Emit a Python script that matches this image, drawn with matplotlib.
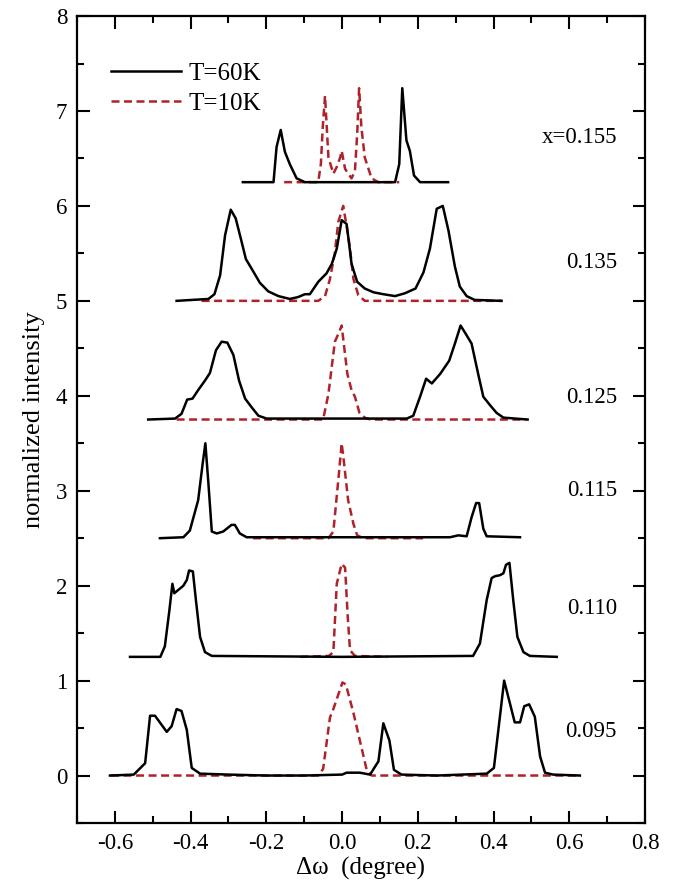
import numpy as np
import matplotlib
matplotlib.use('Agg')
import matplotlib.pyplot as plt
from matplotlib.ticker import MultipleLocator

plt.rcParams['font.family'] = ['Liberation Serif', 'DejaVu Serif']
plt.rcParams['mathtext.fontset'] = 'stix'

# x = 0.095, offset 0
x095_hot = [-0.613, -0.55, -0.52, -0.507, -0.494, -0.463, -0.45, -0.437, -0.424, -0.41, -0.397,
            -0.375, -0.3, -0.2, -0.1, 0.0, 0.012, 0.047, 0.074, 0.096, 0.109, 0.125, 0.137, 0.157,
            0.25, 0.382, 0.401, 0.428, 0.456, 0.47, 0.481, 0.494, 0.509, 0.523, 0.536, 0.557, 0.628]
y095_hot = [0.0, 0.01, 0.13, 0.63, 0.63, 0.46, 0.52, 0.70, 0.68, 0.48, 0.08,
            0.02, 0.01, 0.0, 0.0, 0.01, 0.03, 0.03, 0.01, 0.15, 0.55, 0.37, 0.06, 0.01,
            0.0, 0.02, 0.08, 1.0, 0.56, 0.56, 0.73, 0.75, 0.62, 0.2, 0.03, 0.01, 0.0]
x095_cold = [-0.61, -0.063, -0.05, -0.032, -0.023, 0.001, 0.01, 0.03, 0.065, 0.078, 0.63]
y095_cold = [0.0, 0.0, 0.07, 0.61, 0.70, 0.98, 0.96, 0.66, 0.06, 0.0, 0.0]

# x = 0.110, offset 1.25
x110_hot = [-0.56, -0.48, -0.468, -0.456, -0.448, -0.443, -0.419, -0.41, -0.404, -0.394, -0.386,
            -0.375, -0.362, -0.344, 0.0, 0.346, 0.364, 0.382, 0.395, 0.404, 0.417, 0.426, 0.433,
            0.442, 0.452, 0.463, 0.479, 0.496, 0.567]
y110_hot = [1.25, 1.25, 1.36, 1.74, 2.02, 1.92, 2.0, 2.06, 2.16, 2.15, 1.85,
            1.46, 1.30, 1.26, 1.25, 1.26, 1.39, 1.85, 2.08, 2.10, 2.11, 2.13, 2.22,
            2.24, 1.85, 1.46, 1.30, 1.26, 1.25]
x110_cold = [-0.11, -0.035, -0.023, -0.014, -0.001, 0.008, 0.015, 0.021, 0.034, 0.12]
y110_cold = [1.25, 1.26, 1.30, 2.02, 2.23, 2.19, 1.67, 1.32, 1.26, 1.25]

# x = 0.115, offset 2.5
x115_hot = [-0.481, -0.419, -0.402, -0.38, -0.368, -0.361, -0.353, -0.344, -0.331, -0.314,
            -0.292, -0.283, -0.27, -0.252, 0.285, 0.307, 0.329, 0.342, 0.354, 0.362, 0.373,
            0.382, 0.47]
y115_hot = [2.5, 2.51, 2.58, 2.9, 3.29, 3.50, 3.08, 2.57, 2.55, 2.57,
            2.64, 2.64, 2.55, 2.51, 2.51, 2.53, 2.52, 2.72, 2.87, 2.87, 2.6,
            2.52, 2.51]
x115_cold = [-0.235, -0.036, -0.023, -0.01, -0.001, 0.005, 0.016, 0.03, 0.04, 0.056, 0.214]
y115_cold = [2.5, 2.5, 2.57, 3.11, 3.50, 3.30, 2.90, 2.65, 2.53, 2.5, 2.5]

# x = 0.125, offset 3.75
x125_hot = [-0.512, -0.441, -0.424, -0.409, -0.395, -0.38, -0.362, -0.349, -0.333, -0.318,
            -0.303, -0.287, -0.272, -0.256, -0.239, -0.221, -0.199, 0.171, 0.188, 0.206,
            0.222, 0.237, 0.259, 0.283, 0.298, 0.313, 0.327, 0.342, 0.36, 0.373, 0.391,
            0.408, 0.426, 0.49]
y125_hot = [3.75, 3.76, 3.81, 3.96, 3.97, 4.06, 4.16, 4.24, 4.48, 4.57,
            4.56, 4.43, 4.16, 3.97, 3.88, 3.79, 3.76, 3.76, 3.79, 3.99,
            4.18, 4.13, 4.23, 4.37, 4.55, 4.74, 4.65, 4.55, 4.22, 3.99, 3.90,
            3.82, 3.77, 3.75]
x125_cold = [-0.437, -0.05, -0.036, -0.019, -0.01, -0.001, 0.003, 0.014, 0.025, 0.034, 0.046,
             0.06, 0.075, 0.487]
y125_cold = [3.75, 3.75, 4.02, 4.57, 4.65, 4.74, 4.60, 4.23, 4.06, 3.99, 3.82,
             3.77, 3.75, 3.75]

# x = 0.135, offset 5.0
x135_hot = [-0.437, -0.353, -0.337, -0.322, -0.309, -0.294, -0.281, -0.267, -0.254, -0.239,
            -0.217, -0.195, -0.168, -0.138, -0.116, -0.098, -0.085, -0.063, -0.041, -0.027,
            -0.014, -0.001, 0.012, 0.018, 0.025, 0.04, 0.06, 0.083, 0.109, 0.14, 0.166,
            0.194, 0.215, 0.232, 0.25, 0.266, 0.281, 0.298, 0.311, 0.329, 0.35, 0.42]
y135_hot = [5.0, 5.02, 5.07, 5.27, 5.69, 5.96, 5.87, 5.65, 5.44, 5.34,
            5.19, 5.10, 5.05, 5.02, 5.04, 5.07, 5.07, 5.2, 5.29, 5.39,
            5.55, 5.85, 5.81, 5.62, 5.39, 5.2, 5.13, 5.09, 5.07, 5.05, 5.08,
            5.13, 5.3, 5.55, 5.97, 6.0, 5.74, 5.36, 5.15, 5.05, 5.01, 5.0]
x135_cold = [-0.371, -0.063, -0.045, -0.032, -0.019, -0.01, 0.003, 0.012, 0.021, 0.03, 0.043,
             0.06, 0.425]
y135_cold = [5.0, 5.0, 5.05, 5.23, 5.51, 5.83, 6.0, 5.79, 5.55, 5.23, 5.06,
             5.0, 5.0]

# x = 0.155, offset 6.25
x155_hot = [-0.262, -0.181, -0.173, -0.162, -0.151, -0.138, -0.12, -0.098, 0.14, 0.151, 0.159,
            0.17, 0.179, 0.19, 0.206, 0.28]
y155_hot = [6.25, 6.25, 6.62, 6.80, 6.57, 6.44, 6.29, 6.25, 6.25, 6.44, 7.24,
            6.69, 6.58, 6.32, 6.25, 6.25]
x155_cold = [-0.153, -0.063, -0.056, -0.051, -0.045, -0.036, -0.023, -0.014, -0.005, -0.001,
             0.008, 0.025, 0.034, 0.04, 0.045, 0.051, 0.06, 0.078, 0.096, 0.151]
y155_cold = [6.25, 6.25, 6.44, 6.83, 7.16, 6.51, 6.34, 6.41, 6.51, 6.58,
             6.39, 6.29, 6.37, 6.76, 7.24, 6.83, 6.51, 6.29, 6.25, 6.25]

hot = [(x095_hot, y095_hot), (x110_hot, y110_hot), (x115_hot, y115_hot),
       (x125_hot, y125_hot), (x135_hot, y135_hot), (x155_hot, y155_hot)]
cold = [(x095_cold, y095_cold), (x110_cold, y110_cold), (x115_cold, y115_cold),
        (x125_cold, y125_cold), (x135_cold, y135_cold), (x155_cold, y155_cold)]

labels = ['0.095', '0.110', '0.115', '0.125', '0.135', 'x=0.155']
label_y = [0.46, 1.76, 3.0, 3.98, 5.40, 6.72]

red = '#b0222a'

fig = plt.figure(figsize=(6.73, 8.86), dpi=100)
ax = fig.add_axes([0.1144, 0.0711, 0.844, 0.9108])

for i in range(len(hot)):
    xc, yc = cold[i]
    ax.plot(xc, yc, color=red, lw=1.8, dashes=(3.2, 1.8),
            label='T=10K' if i == 0 else None, zorder=2)
for i in range(len(hot)):
    xh, yh = hot[i]
    ax.plot(xh, yh, color='black', lw=1.8,
            label='T=60K' if i == 0 else None, zorder=3)

for lab, yl in zip(labels, label_y):
    ax.text(0.726, yl, lab, ha='right', va='center', fontsize=16.5)

ax.set_xlim(-0.7, 0.8)
ax.set_ylim(-0.5, 8)
ax.xaxis.set_minor_locator(MultipleLocator(0.1))
ax.yaxis.set_major_locator(MultipleLocator(1))
ax.yaxis.set_minor_locator(MultipleLocator(0.5))
ax.set_xticks(np.arange(-0.6, 0.81, 0.2))
ax.set_xticklabels(['-0.6', '-0.4', '-0.2', '0.0', '0.2', '0.4', '0.6', '0.8'])
ax.tick_params(which='both', direction='in', top=True, right=True, labelsize=16.5, width=1.5)
ax.tick_params(which='major', length=9, pad=7)
ax.tick_params(which='minor', length=5)
for s in ax.spines.values():
    s.set_linewidth(1.6)

ax.set_xlabel('Δω  (degree)', fontsize=18, labelpad=2)
ax.set_ylabel('normalized intensity', fontsize=19, labelpad=8)

h, l = ax.get_legend_handles_labels()
order = [l.index('T=60K'), l.index('T=10K')]
ax.legend([h[k] for k in order], [l[k] for k in order], loc='upper left',
          bbox_to_anchor=(0.02, 0.97), frameon=False, fontsize=18,
          handlelength=2.8, handletextpad=0.3, labelspacing=0.3)

fig.savefig('out.png', dpi=100)
